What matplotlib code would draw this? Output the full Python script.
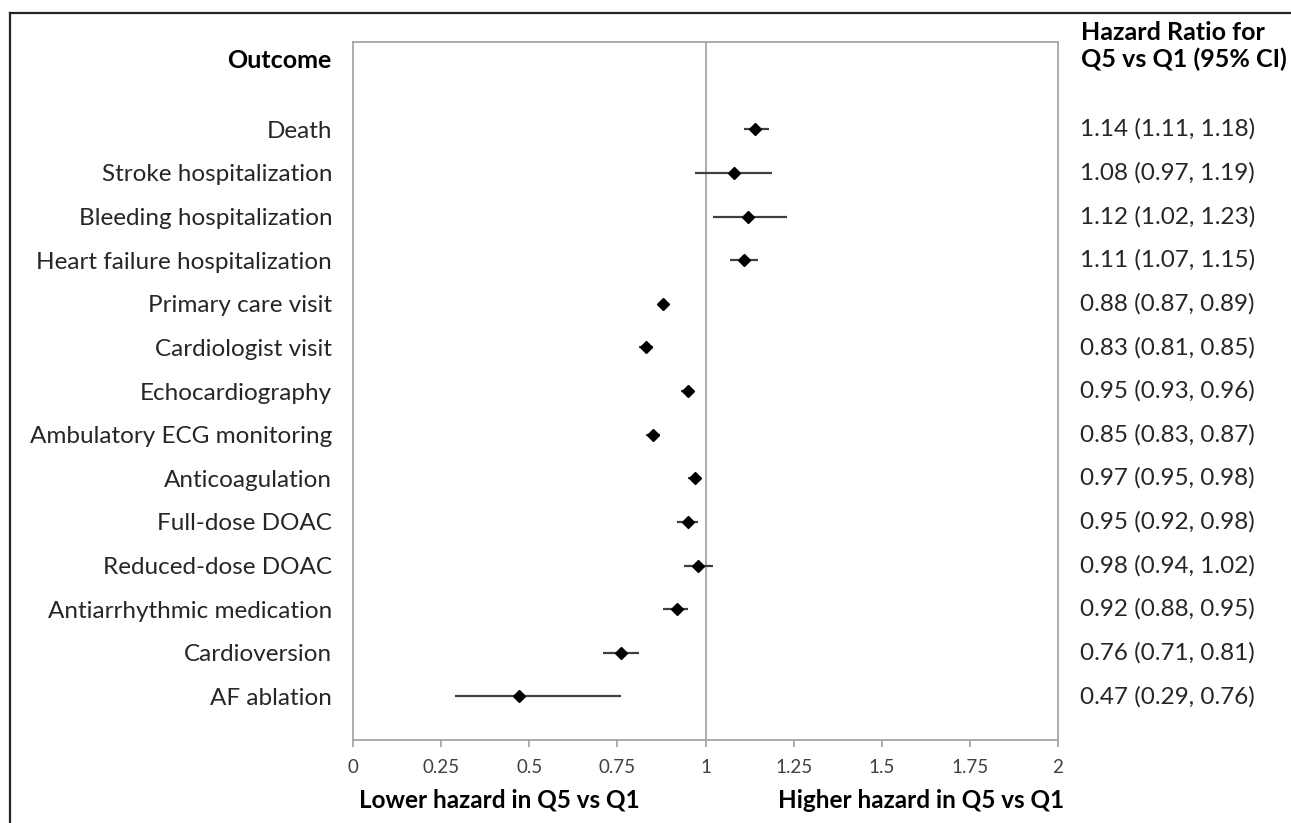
import numpy as np
import matplotlib.pyplot as plt
from matplotlib.lines import Line2D

plt.rcParams['font.family'] = ['Lato', 'DejaVu Sans']

outcomes = ["Death", "Stroke hospitalization", "Bleeding hospitalization",
            "Heart failure hospitalization", "Primary care visit", "Cardiologist visit",
            "Echocardiography", "Ambulatory ECG monitoring", "Anticoagulation",
            "Full-dose DOAC", "Reduced-dose DOAC", "Antiarrhythmic medication",
            "Cardioversion", "AF ablation"]
hr = [1.14, 1.08, 1.12, 1.11, 0.88, 0.83, 0.95, 0.85, 0.97, 0.95, 0.98, 0.92, 0.76, 0.47]
lo = [1.11, 0.97, 1.02, 1.07, 0.87, 0.81, 0.93, 0.83, 0.95, 0.92, 0.94, 0.88, 0.71, 0.29]
hi = [1.18, 1.19, 1.23, 1.15, 0.89, 0.85, 0.96, 0.87, 0.98, 0.98, 1.02, 0.95, 0.81, 0.76]
xticks = [0, 0.25, 0.5, 0.75, 1, 1.25, 1.5, 1.75, 2]
xticklabels = ["0", "0.25", "0.5", "0.75", "1", "1.25", "1.5", "1.75", "2"]

hr = np.array(hr)
lo = np.array(lo)
hi = np.array(hi)
ypos = np.arange(len(outcomes), 0, -1)

W, H = 1291, 823
fig = plt.figure(figsize=(W / 100, H / 100), dpi=100)
ax = fig.add_axes([353 / W, 1 - 740 / H, 705 / W, 698 / H])

ax.axvline(1, color="#a6a6a6", lw=1.3, zorder=1)
ax.hlines(ypos, lo, hi, color="#404040", lw=1.6, zorder=2)
ax.plot(hr, ypos, "D", color="black", markersize=6.5, zorder=3)

ax.set_xlim(0, 2)
ax.set_ylim(0, 16)
ax.set_xticks(xticks)
ax.set_xticklabels(xticklabels)
ax.set_yticks(ypos)
ax.set_yticklabels(outcomes)

for s in ax.spines.values():
    s.set_color("#a6a6a6")
    s.set_linewidth(1.3)
ax.tick_params(axis="x", colors="#a6a6a6", length=5, width=1.3, labelcolor="#404040",
               labelsize=13.5, pad=9)
ax.tick_params(axis="y", length=0, pad=15, labelsize=17.5, labelcolor="#262626")

for y, h, l, u in zip(ypos, hr, lo, hi):
    ax.text(1.031, y, f"{h:.2f} ({l:.2f}, {u:.2f})", transform=ax.get_yaxis_transform(),
            ha="left", va="center", fontsize=17.5, color="#262626")

fig.text(331 / W, 1 - 60 / H, "Outcome", ha="right", va="center",
         fontsize=18, fontweight="bold", color="black")
fig.text(1081 / W, 1 - 33 / H, "Hazard Ratio for", ha="left", va="center",
         fontsize=18, fontweight="bold", color="black")
fig.text(1081 / W, 1 - 59 / H, "Q5 vs Q1 (95% CI)", ha="left", va="center",
         fontsize=18, fontweight="bold", color="black")
fig.text(359 / W, 1 - 800 / H, "Lower hazard in Q5 vs Q1", ha="left", va="center",
         fontsize=17.5, fontweight="bold", color="black")
fig.text(1064 / W, 1 - 800 / H, "Higher hazard in Q5 vs Q1", ha="right", va="center",
         fontsize=17.5, fontweight="bold", color="black")

# outer frame (left and top)
fig.add_artist(Line2D([10 / W, 10 / W], [0, 1 - 13 / H], transform=fig.transFigure,
                      color="#262626", lw=1.6))
fig.add_artist(Line2D([10 / W, 1], [1 - 13 / H, 1 - 13 / H], transform=fig.transFigure,
                      color="#262626", lw=1.6))

fig.savefig("out.png", dpi=100)
